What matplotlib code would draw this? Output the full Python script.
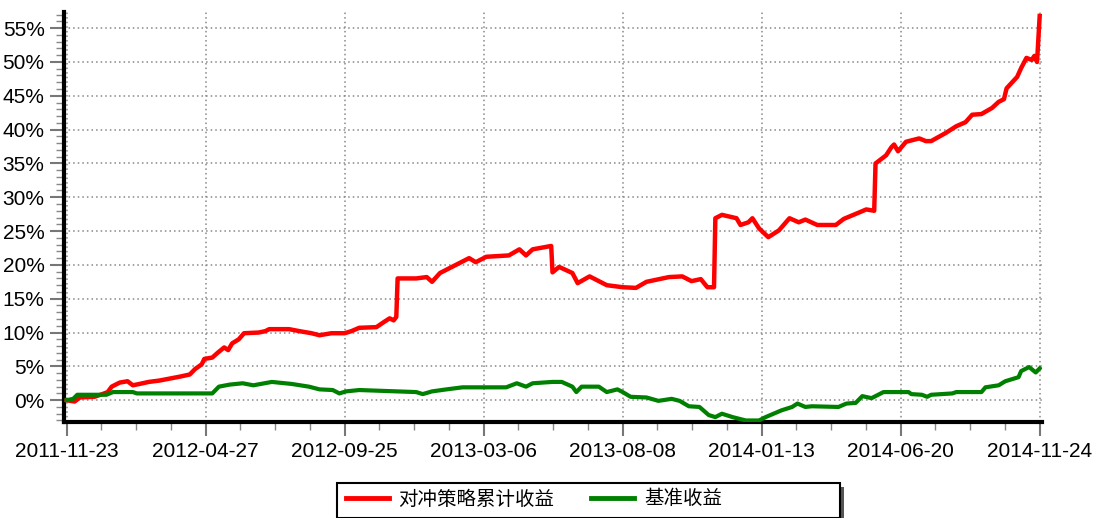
import numpy as np
import matplotlib
matplotlib.use("Agg")
import matplotlib.pyplot as plt
from matplotlib.patches import Rectangle
from matplotlib.ticker import MultipleLocator, FuncFormatter

# trading-day index -> cumulative return (%)
red_days = [0, 6, 10, 21, 27, 31, 34, 40, 46, 50, 55, 62, 70, 78, 86, 93, 97, 102, 104,
            110, 114, 119, 122, 125, 130, 134, 145, 150, 153, 168, 176, 185, 191, 200,
            210, 215, 221, 234, 240, 244, 247, 249, 250, 264, 272, 276, 282, 294, 304,
            309, 317, 334, 342, 347, 352, 366, 367, 372, 382, 386, 395, 408, 420, 430,
            438, 455, 465, 472, 479, 484, 489, 490, 495, 506, 509, 515, 518, 523, 530,
            538, 546, 553, 558, 567, 581, 587, 598, 604, 610, 611, 619, 623, 625, 628,
            634, 644, 649, 653, 664, 672, 679, 684, 691, 699, 704, 708, 710, 718, 721,
            725, 729, 731, 733, 735]
red_vals = [0.0, -0.2, 0.4, 0.5, 0.9, 1.2, 2.0, 2.6, 2.8, 2.2, 2.4, 2.7, 2.9, 3.2, 3.5,
            3.8, 4.6, 5.3, 6.1, 6.3, 7.0, 7.8, 7.4, 8.4, 9.0, 9.9, 10.0, 10.2, 10.5, 10.5,
            10.2, 9.9, 9.6, 9.9, 9.9, 10.2, 10.7, 10.8, 11.6, 12.1, 11.8, 12.3, 18.0,
            18.0, 18.2, 17.5, 18.8, 20.0, 21.0, 20.4, 21.2, 21.4, 22.3, 21.4, 22.3, 22.8,
            18.9, 19.7, 18.8, 17.3, 18.3, 17.0, 16.7, 16.6, 17.5, 18.2, 18.3, 17.6, 17.9,
            16.7, 16.7, 26.9, 27.4, 26.9, 25.9, 26.3, 26.9, 25.4, 24.1, 25.1, 26.9, 26.3,
            26.7, 25.9, 25.9, 26.8, 27.7, 28.2, 28.0, 35.0, 36.2, 37.4, 37.8, 36.8, 38.2,
            38.7, 38.3, 38.3, 39.5, 40.5, 41.1, 42.2, 42.3, 43.2, 44.1, 44.5, 46.1, 47.8,
            49.1, 50.6, 50.3, 50.9, 50.0, 56.8]

green_days = [0, 5, 8, 30, 35, 50, 53, 105, 110, 115, 123, 133, 141, 155, 170, 183, 191,
              201, 206, 211, 221, 264, 269, 276, 287, 299, 332, 340, 347, 352, 367, 374,
              382, 385, 389, 402, 408, 416, 420, 426, 438, 447, 457, 463, 470, 478, 485,
              490, 495, 503, 513, 523, 528, 540, 548, 552, 558, 563, 583, 589, 596, 601,
              608, 617, 636, 638, 646, 650, 653, 669, 672, 691, 694, 704, 709, 719, 721,
              727, 732, 735]
green_vals = [0.0, 0.2, 0.8, 0.8, 1.2, 1.2, 1.0, 1.0, 1.0, 2.0, 2.3, 2.5, 2.2, 2.7, 2.4,
              2.0, 1.6, 1.5, 1.0, 1.3, 1.5, 1.2, 0.9, 1.3, 1.6, 1.9, 1.9, 2.5, 2.0, 2.5,
              2.7, 2.7, 2.0, 1.2, 2.0, 2.0, 1.2, 1.6, 1.2, 0.5, 0.4, -0.1, 0.2, -0.1, -0.9,
              -1.0, -2.2, -2.5, -2.0, -2.5, -3.0, -3.0, -2.5, -1.5, -1.0, -0.5, -1.0, -0.9,
              -1.0, -0.5, -0.4, 0.6, 0.3, 1.2, 1.2, 0.9, 0.8, 0.5, 0.8, 1.0, 1.2, 1.2, 1.9,
              2.2, 2.8, 3.4, 4.3, 4.9, 4.1, 4.7]

tick_days = [0, 105, 210, 315, 420, 525, 630, 735]
tick_labels = ["2011-11-23", "2012-04-27", "2012-09-25", "2013-03-06",
               "2013-08-08", "2014-01-13", "2014-06-20", "2014-11-24"]

red_name = "对冲策略累计收益"
green_name = "基准收益"

plt.rcParams['font.family'] = ['Liberation Sans', 'DejaVu Sans']

W, H = 1098, 518
fig = plt.figure(figsize=(W / 100, H / 100), dpi=100)
ax = fig.add_axes([0.0583, 0.185, 0.891, 0.792])

ax.plot(red_days, red_vals, color='#ff0000', lw=3.2, label=red_name,
        solid_joinstyle='round', zorder=3)
ax.plot(green_days, green_vals, color='#008000', lw=3.0, label=green_name,
        solid_joinstyle='round', zorder=3)

ax.set_xlim(-2, 737)
ax.set_ylim(-3.25, 57.4)

ax.set_xticks(tick_days)
ax.set_xticklabels(tick_labels)
ax.xaxis.set_minor_locator(MultipleLocator(105 / 4))
ax.yaxis.set_major_locator(MultipleLocator(5))
ax.yaxis.set_minor_locator(MultipleLocator(1))
ax.yaxis.set_major_formatter(FuncFormatter(lambda v, p: f"{v:.0f}%"))

ax.grid(True, which='major', linestyle=(0, (1, 2)), color='#888888', lw=1.1)

for s in ['top', 'right']:
    ax.spines[s].set_visible(False)
for s in ['left', 'bottom']:
    ax.spines[s].set_linewidth(3)
    ax.spines[s].set_color('black')

ax.tick_params(which='major', length=10, width=1.5, color='#777777',
               labelsize=15, pad=4)
ax.tick_params(which='minor', length=6, width=1, color='#888888')

# legend box drawn by hand (wider than its entries), with a shadow
shadow = Rectangle((341 / W, -4 / H), 503 / W, 35 / H, transform=fig.transFigure,
                   facecolor='#555555', edgecolor='none', zorder=5)
box = Rectangle((337 / W, 0), 503 / W, 35 / H, transform=fig.transFigure,
                facecolor='white', edgecolor='black', lw=1.5, zorder=6)
fig.add_artist(shadow)
fig.add_artist(box)

leg = fig.legend(loc='center left', bbox_to_anchor=(346 / W, 1 - 499 / H),
                 ncol=2, prop={'family': ['Noto Sans CJK SC', 'DejaVu Sans'], 'size': 14},
                 frameon=False, borderpad=0, borderaxespad=0,
                 handlelength=2.2, handletextpad=0.5, columnspacing=1.9)
leg.set_zorder(7)
for ln in leg.get_lines():
    ln.set_linewidth(3.5)

fig.savefig("out.png", dpi=100)
